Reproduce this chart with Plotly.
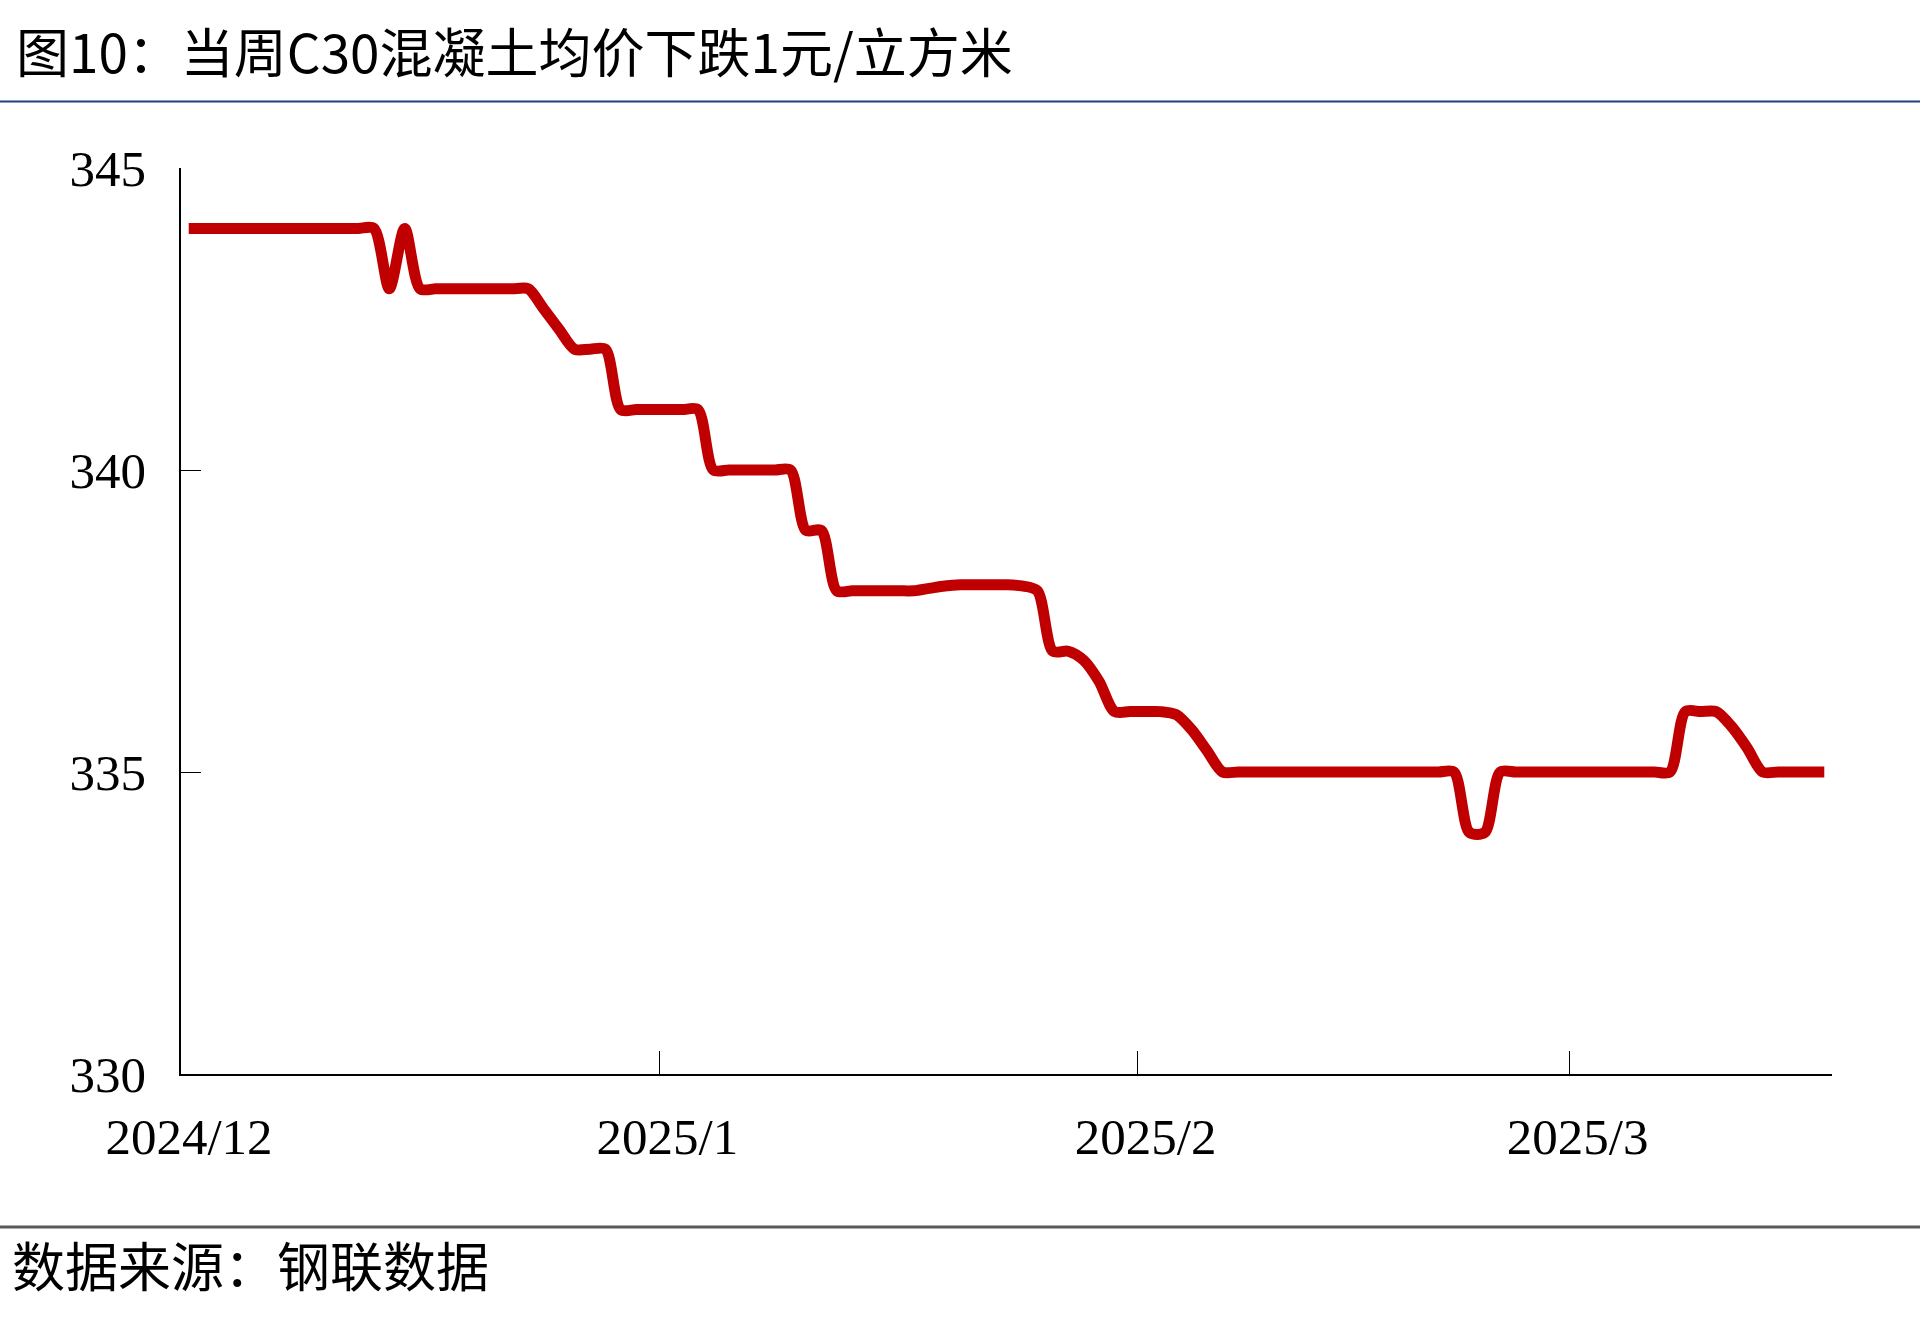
import pandas as pd
import plotly.graph_objects as go

# ---------------- data ----------------
start_date = "2024-12-01"
price = [
    344, 344, 344, 344, 344, 344, 344, 344, 344, 344, 344, 344, 344,   # Dec 1-13
    343, 344,                                                          # Dec 14-15
    343, 343, 343, 343, 343, 343, 343, 343,                            # Dec 16-23
    342.67, 342.33, 342, 342, 342,                                     # Dec 24-28
    341, 341, 341, 341, 341, 341,                                      # Dec 29 - Jan 3
    340, 340, 340, 340, 340, 340,                                      # Jan 4-9
    339, 339,                                                          # Jan 10-11
    338, 338, 338, 338, 338, 338, 338.04, 338.08, 338.1, 338.1, 338.1,
    338.1, 338.08, 338.0,                                              # Jan 12-25
    337, 337,                                                          # Jan 26-27
    336.85, 336.5, 336, 336, 336, 336,                                 # Jan 28 - Feb 2
    335.95, 335.7, 335.35, 335,                                        # Feb 3-6
    335, 335, 335, 335, 335, 335, 335, 335, 335, 335, 335, 335, 335,
    335, 335,                                                          # Feb 7-21
    334, 334,                                                          # Feb 22-23
    335, 335, 335, 335, 335, 335, 335, 335, 335, 335, 335, 335,        # Feb 24 - Mar 7
    336, 336, 336,                                                     # Mar 8-10
    335.75, 335.4, 335,                                                # Mar 11-13
    335, 335, 335, 335,                                                # Mar 14-17
]
tick_dates = ["2024-12-01", "2025-01-01", "2025-02-01", "2025-03-01"]
tick_labels = ["2024/12", "2025/1", "2025/2", "2025/3"]
y_ticks = [330, 335, 340, 345]

title_text = "图10：当周C30混凝土均价下跌1元/立方米"
source_text = "数据来源：钢联数据"

# daily points are drawn in the middle of each day's slot
dates = pd.date_range(start_date, periods=len(price), freq="D") + pd.Timedelta(hours=12)

# ---------------- layout geometry ----------------
W, H = 1920, 1331
L, R, T, B = 181, 1832, 168, 1074
pw, ph = R - L, B - T


def px_x(x):
    return (x - L) / pw


def px_y(y):
    return (B - y) / ph


fig = go.Figure()
fig.add_trace(go.Scatter(
    x=dates, y=price, mode="lines",
    line=dict(color="#C00000", width=11, shape="spline", smoothing=0.8),
    hoverinfo="skip", showlegend=False,
))

serif = "Liberation Serif, Times New Roman, serif"
cjk = "Noto Sans CJK SC, sans-serif"

fig.update_layout(
    width=W, height=H,
    margin=dict(l=L, r=W - R, t=T, b=H - B, pad=0),
    paper_bgcolor="white", plot_bgcolor="white",
    showlegend=False,
    xaxis=dict(
        type="date",
        range=["2024-12-01", "2025-03-18"],
        tickvals=tick_dates, ticktext=tick_labels,
        ticks="inside", ticklen=23, tickwidth=1, tickcolor="black",
        showline=True, linecolor="black", linewidth=1.5,
        showgrid=False, zeroline=False,
        tickfont=dict(family=serif, size=51, color="black"),
        ticklabelstandoff=17,
        ticklabelshift=8,
    ),
    yaxis=dict(
        range=[330, 345],
        tickvals=y_ticks,
        ticks="inside", ticklen=20, tickwidth=1, tickcolor="black",
        showline=True, linecolor="black", linewidth=1.5,
        showgrid=False, zeroline=False,
        tickfont=dict(family=serif, size=51, color="black"),
        ticklabelstandoff=23,
    ),
)

fig.add_annotation(
    x=px_x(14), y=px_y(50), xref="paper", yref="paper",
    xanchor="left", yanchor="middle", showarrow=False,
    text=title_text, font=dict(family=cjk, size=53, color="black"),
)
fig.add_annotation(
    x=px_x(10), y=px_y(1264), xref="paper", yref="paper",
    xanchor="left", yanchor="middle", showarrow=False,
    text=source_text, font=dict(family=cjk, size=53, color="black"),
)

fig.add_shape(type="line", xref="paper", yref="paper",
              x0=px_x(0), x1=px_x(W), y0=px_y(101.5), y1=px_y(101.5),
              line=dict(color="#1F3F7F", width=2))
fig.add_shape(type="line", xref="paper", yref="paper",
              x0=px_x(0), x1=px_x(W), y0=px_y(1227), y1=px_y(1227),
              line=dict(color="#595959", width=3))

fig.write_html("out.html", config={"displayModeBar": False},
               post_script="document.body.style.margin='0';")
